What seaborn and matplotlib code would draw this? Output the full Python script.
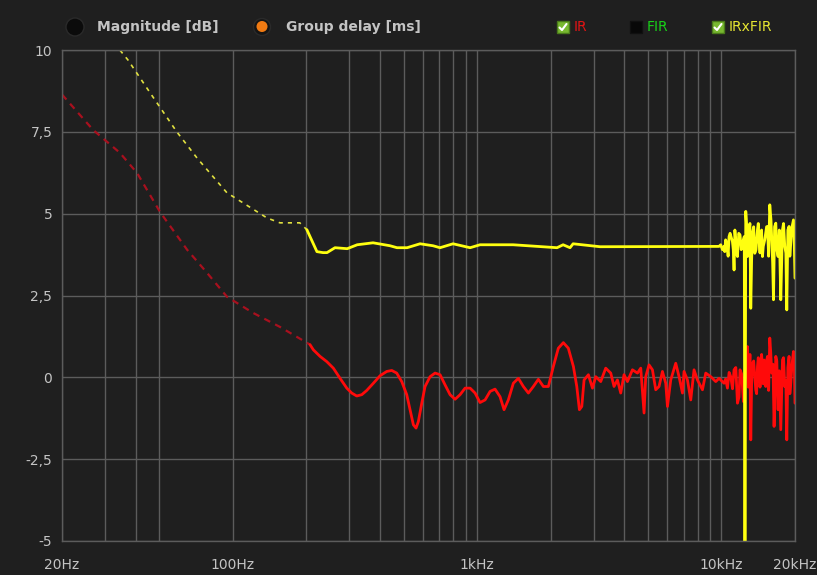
import matplotlib
matplotlib.use("Agg")
import matplotlib.pyplot as plt
from matplotlib.patches import Circle, Rectangle
from matplotlib.ticker import FixedLocator, NullFormatter
import seaborn as sns
import pandas as pd

# ---------------- data ----------------
# IRxFIR (yellow) group delay, low-frequency dashed part
yel_dash_f = [30, 34.5, 37.2, 45.8, 59, 71.4, 94.6, 138, 156, 188, 201]
yel_dash_v = [10.7, 10.0, 9.70, 8.70, 7.50, 6.70, 5.64, 4.87, 4.72, 4.72, 4.51]
# IRxFIR (yellow) solid part
yel_f = [201, 221, 234, 243, 262, 294, 323, 375, 440, 470, 517, 584, 660, 705, 797,
         936, 1028, 1404, 2124, 2249, 2400, 2471, 3185, 9777, 9934,
         10095, 10248, 10316, 10512, 10742, 11090, 11261, 11441, 11627, 11915, 12190,
         12400, 12480, 12575, 12777, 12973, 13181, 13395, 13688, 14042, 14254, 14486,
         14718, 15040, 15430, 15768, 16069, 16330, 16688, 17053, 17490, 17774, 18163,
         18509, 18914, 19221, 19715, 20000]
yel_v = [4.51, 3.84, 3.81, 3.81, 3.96, 3.93, 4.05, 4.11, 4.02, 3.96, 3.96, 4.08, 4.02, 3.96, 4.08,
         3.96, 4.05, 4.05, 3.96, 4.05, 3.96, 4.08, 3.99, 4.00, 4.05,
         3.90, 4.00, 3.84, 4.10, 4.30, 4.15, 3.28, 4.20, 3.69, 4.35, 4.10,
         4.30, -6.0, 5.07, 3.69, 4.51, 2.11, 4.40, 3.79, 4.51, 4.20, 4.40,
         3.69, 4.20, 4.61, 5.27, 4.20, 2.37, 4.71, 3.69, 2.37, 4.51, 4.00,
         2.06, 4.61, 4.10, 4.81, 3.03]
# extra readings inside the dense yellow band above 10 kHz
yel_hf_f = [10400, 10650, 10850, 11180, 11350, 11530, 11770, 12050, 12680, 12870,
            13080, 13290, 13550, 13850, 14150, 14380, 14600, 14830, 15300, 15600,
            15950, 16200, 16500, 16850, 17250, 17650, 17950, 18350, 18700, 19050,
            19450, 19850]
yel_hf_v = [4.2, 3.7, 4.4, 3.9, 4.5, 3.8, 4.4, 3.9, 4.6, 4.0,
            4.7, 3.6, 4.6, 3.9, 4.7, 3.8, 4.5, 4.0, 4.6, 3.7,
            4.8, 3.5, 4.6, 3.9, 4.5, 3.6, 4.7, 3.8, 4.5, 3.7,
            4.6, 4.2]

# IR (red) magnitude, low-frequency dashed part
red_dash_f = [20, 26.8, 34.5, 40.6, 50.4, 65.0, 78.5, 94.7, 121, 156, 207]
red_dash_v = [8.64, 7.56, 6.86, 6.24, 5.05, 3.90, 3.19, 2.46, 1.97, 1.54, 1.00]
# IR (red) solid part
red_f = [207, 213.7, 227.6, 242.5, 258.0, 274.8, 292.8, 306.8, 321.6, 337.3, 353.4,
         376.2, 400.8, 426.8, 447.4, 468.8, 491.5, 515.2, 531.6, 548.4, 562.4, 574.8,
         593.5, 612.3, 641.8, 672.9, 705.3, 739.3, 775.0, 812.5, 851.6, 892.8, 935.9,
         980.9, 1028, 1078, 1130, 1184, 1241, 1289, 1342, 1407, 1475, 1546, 1621,
         1699, 1781, 1867, 1957, 2051, 2150, 2254, 2362, 2478, 2558, 2622, 2682,
         2740, 2854, 2965, 3059, 3206, 3360, 3523, 3634, 3752, 3871, 3993, 4123,
         4322, 4531, 4674, 4822, 4899, 5054, 5219, 5383, 5553, 5734, 5916, 6012,
         6201, 6500, 6706, 6925, 7029, 7258, 7488, 7724, 7976, 8361, 8625, 9041,
         9477, 9777, 10248, 10582, 10915, 11261, 11627, 11915, 12303, 12575, 12777,
         12973, 13181, 13395, 13818, 14042, 14486, 14943, 15183, 15430, 15768, 16069,
         16421, 16688, 17053, 17490, 17774, 18163, 18509, 18914, 19221, 19715, 20000]
red_v = [1.00, 0.84, 0.64, 0.48, 0.28, -0.03, -0.33, -0.48, -0.57, -0.53, -0.40,
         -0.18, 0.05, 0.18, 0.21, 0.13, -0.13, -0.53, -0.99, -1.45, -1.55, -1.35,
         -0.79, -0.28, 0.02, 0.13, 0.08, -0.23, -0.53, -0.67, -0.53, -0.33, -0.33,
         -0.48, -0.77, -0.69, -0.43, -0.36, -0.59, -0.99, -0.69, -0.18, -0.03, -0.28, -0.48,
         -0.28, -0.06, -0.28, -0.28, 0.33, 0.89, 1.06, 0.89, 0.33, -0.28, -0.99, -0.89,
         -0.08, 0.08, -0.33, 0.02, -0.13, 0.28, 0.13, -0.28, -0.08, -0.48, 0.08, -0.13,
         0.23, 0.13, 0.28, -1.09, 0.02, 0.38, 0.23, -0.38, -0.28, 0.18, -0.18, -0.89,
         -0.08, 0.43, 0.02, -0.48, 0.18, -0.08, -0.69, 0.23, -0.08, -0.38, 0.13, 0.02,
         -0.13, -0.03, -0.18, -0.33, 0.02, 0.23, -0.79, 0.23, -0.74, 0.23, 0.94,
         -0.28, -1.91, 0.43, -0.38, 0.33, -0.08, 0.53, -0.28, 0.64, 1.20, 0.13,
         -1.50, 0.64, -0.99, -1.60, 0.53, -0.28, -1.91, 0.64, -0.18, 0.79, -0.79]
# extra readings inside the dense red band above 10 kHz
red_hf_f = [10400, 10750, 11100, 11450, 11800, 12100, 12650, 12870, 13080, 13290,
            13550, 13930, 14150, 14380, 14600, 14830, 15300, 15600, 15900, 16250,
            16550, 16850, 17250, 17650, 17950, 18350, 18700, 19050, 19450, 19850]
red_hf_v = [-0.05, 0.15, -0.35, 0.30, -0.60, 0.10, 0.60, -0.30, 0.70, -0.20,
            0.50, -0.50, 0.60, -0.30, 0.70, -0.20, 0.50, -0.40, 0.80, 0.40,
            -0.60, 0.50, 0.20, -0.40, 0.60, -0.10, 0.30, -0.50, 0.40, 0.60]

x_major = [20, 100, 1000, 10000, 20000]
x_major_labels = ["20Hz", "100Hz", "1kHz", "10kHz", "20kHz"]
x_minor = [30, 40, 50, 200, 300, 400, 500, 600, 700, 800, 900,
           2000, 3000, 4000, 5000, 6000, 7000, 8000, 9000]
y_ticks = [-5, -2.5, 0, 2.5, 5, 7.5, 10]
y_tick_labels = ["-5", "-2,5", "0", "2,5", "5", "7,5", "10"]

# ---------------- styling ----------------
BG = "#1f1f1f"
GRID = "#5c5c5c"
TXT = "#c4c4c4"

sns.set_theme(style="dark")
plt.rcParams["font.family"] = ["DejaVu Sans"]

fig = plt.figure(figsize=(8.17, 5.75), dpi=100, facecolor=BG)
W, H = 817, 575
ax = fig.add_axes([62 / W, 1 - 541 / H, (795 - 62) / W, (541 - 50) / H])
ax.set_facecolor(BG)
ax.set_xscale("log")

def seg(f, v, ef=None, ev=None):
    df = pd.DataFrame({"f": f, "v": v})
    if ef is not None:
        df = pd.concat([df, pd.DataFrame({"f": ef, "v": ev})])
        df = df.sort_values("f", kind="stable")
    return df

sns.lineplot(data=seg(red_dash_f, red_dash_v), x="f", y="v", ax=ax, color="#a8101e",
             linewidth=1.6, estimator=None, sort=False)
ax.lines[-1].set_linestyle((0, (3, 2.5)))
sns.lineplot(data=seg(red_f, red_v, red_hf_f, red_hf_v), x="f", y="v", ax=ax,
             color="#ff0a0a", linewidth=2.0, estimator=None, sort=False)
sns.lineplot(data=seg(yel_dash_f, yel_dash_v), x="f", y="v", ax=ax, color="#e0e040",
             linewidth=1.2, estimator=None, sort=False)
ax.lines[-1].set_linestyle((0, (2.5, 3)))
sns.lineplot(data=seg(yel_f, yel_v, yel_hf_f, yel_hf_v), x="f", y="v", ax=ax,
             color="#ffff10", linewidth=2.0, estimator=None, sort=False)

ax.set_xlim(20, 20000)
ax.set_ylim(-5, 10)
ax.xaxis.set_major_locator(FixedLocator(x_major))
ax.xaxis.set_minor_locator(FixedLocator(x_minor))
ax.xaxis.set_minor_formatter(NullFormatter())
ax.set_xticklabels(x_major_labels)
ax.set_yticks(y_ticks)
ax.set_yticklabels(y_tick_labels)
ax.set_xlabel("")
ax.set_ylabel("")
ax.grid(True, which="both", color=GRID, linewidth=1.0)
ax.set_axisbelow(True)
ax.tick_params(axis="both", which="both", length=0, colors=TXT, labelsize=10)
ax.tick_params(axis="x", pad=12)
ax.tick_params(axis="y", pad=7)
for s in ax.spines.values():
    s.set_visible(True)
    s.set_color(GRID)
    s.set_linewidth(1.0)

# ---------------- header legend (pixel overlay) ----------------
ov = fig.add_axes([0, 0, 1, 1], facecolor="none")
ov.set_xlim(0, W)
ov.set_ylim(H, 0)
ov.axis("off")

ov.add_patch(Circle((75, 27), 9, facecolor="#0b0b0b", edgecolor="#2a2a2a", lw=1))
ov.text(97, 27, "Magnitude [dB]", color=TXT, fontsize=10, fontweight="bold",
        va="center", ha="left")
ov.add_patch(Circle((262, 27), 8.5, facecolor="#151515", edgecolor="#2a2a2a", lw=1))
ov.add_patch(Circle((262, 26.5), 5.5, facecolor="#f07a12", edgecolor="none"))
ov.text(286, 27, "Group delay [ms]", color=TXT, fontsize=10, fontweight="bold",
        va="center", ha="left")

def checkbox(x, checked):
    if checked:
        ov.add_patch(Rectangle((x - 6, 21), 12, 12, facecolor="#78b830",
                               edgecolor="#4a7a1a", lw=1))
        ov.plot([x - 3.5, x - 1, x + 3.5], [27.5, 30, 24], color="white", lw=1.5)
    else:
        ov.add_patch(Rectangle((x - 6, 21), 12, 12, facecolor="#080808",
                               edgecolor="#101010", lw=1))

checkbox(563, True)
ov.text(574, 27, "IR", color="#e01414", fontsize=10, va="center", ha="left")
checkbox(636, False)
ov.text(647, 27, "FIR", color="#18d018", fontsize=10, va="center", ha="left")
checkbox(718, True)
ov.text(729, 27, "IRxFIR", color="#e6e632", fontsize=10, va="center", ha="left")

fig.savefig("out.png", dpi=100, facecolor=BG)
